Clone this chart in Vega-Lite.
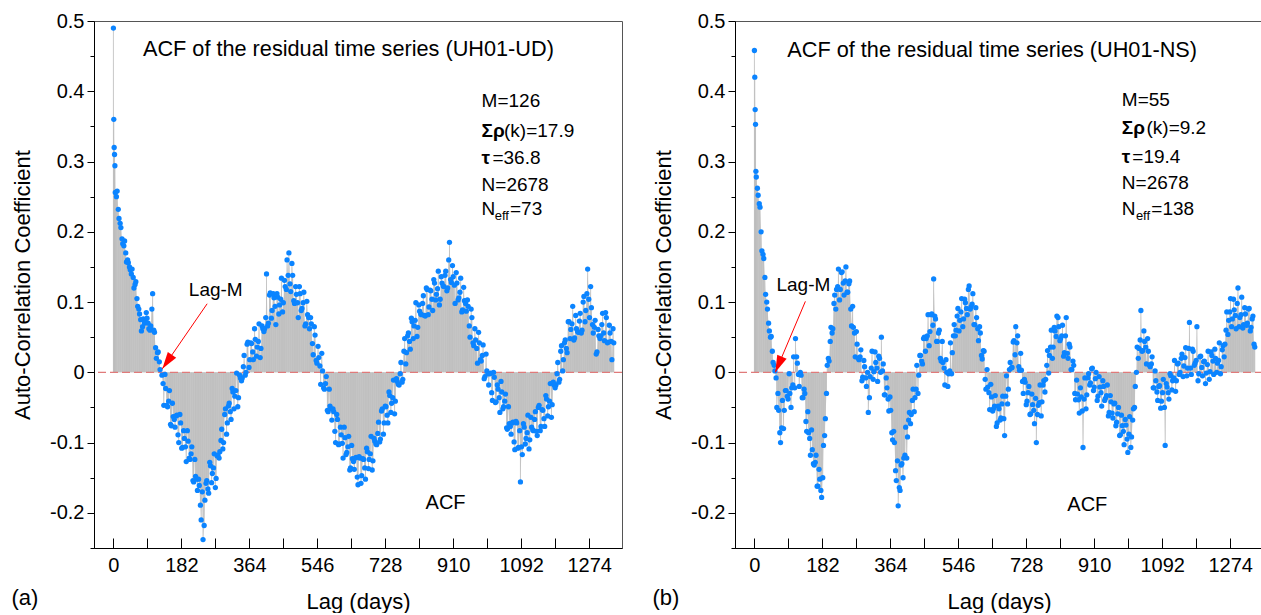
{
"$schema": "https://vega.github.io/schema/vega-lite/v6.json",
"padding": {"left": 11, "top": 10, "right": 0, "bottom": 0},
"config": {
 "font": "Liberation Sans",
 "view": {"stroke": "#555555", "strokeWidth": 1},
 "concat": {"spacing": 28},
 "axis": {"labelFontSize": 20, "titleFontSize": 22, "titleFontWeight": "normal", "labelColor": "black", "titleColor": "black", "domainColor": "black", "tickColor": "black", "grid": false},
 "title": {"fontSize": 22, "fontWeight": "normal", "color": "black"}
},
"datasets": {
"acfA": [{"lag":0,"v":0.49},{"lag":1,"v":0.36},{"lag":2,"v":0.32},{"lag":3,"v":0.31},{"lag":4,"v":0.294},{"lag":5,"v":0.256},{"lag":10,"v":0.258},{"lag":15,"v":0.219},{"lag":20,"v":0.206},{"lag":25,"v":0.183},{"lag":30,"v":0.187},{"lag":35,"v":0.157},{"lag":40,"v":0.156},{"lag":45,"v":0.146},{"lag":50,"v":0.147},{"lag":55,"v":0.12},{"lag":60,"v":0.129},{"lag":65,"v":0.094},{"lag":70,"v":0.083},{"lag":75,"v":0.059},{"lag":80,"v":0.076},{"lag":85,"v":0.073},{"lag":90,"v":0.077},{"lag":95,"v":0.062},{"lag":100,"v":0.066},{"lag":105,"v":0.112},{"lag":110,"v":0.057},{"lag":115,"v":0.02},{"lag":120,"v":0.029},{"lag":125,"v":0.004},{"lag":130,"v":-0.004},{"lag":135,"v":-0.047},{"lag":140,"v":-0.023},{"lag":145,"v":-0.049},{"lag":150,"v":-0.026},{"lag":155,"v":-0.076},{"lag":160,"v":-0.063},{"lag":165,"v":-0.078},{"lag":170,"v":-0.061},{"lag":175,"v":-0.1},{"lag":180,"v":-0.072},{"lag":185,"v":-0.107},{"lag":190,"v":-0.094},{"lag":195,"v":-0.127},{"lag":200,"v":-0.098},{"lag":205,"v":-0.124},{"lag":210,"v":-0.106},{"lag":215,"v":-0.156},{"lag":220,"v":-0.148},{"lag":225,"v":-0.168},{"lag":230,"v":-0.161},{"lag":235,"v":-0.21},{"lag":240,"v":-0.238},{"lag":245,"v":-0.182},{"lag":250,"v":-0.154},{"lag":255,"v":-0.172},{"lag":260,"v":-0.133},{"lag":265,"v":-0.144},{"lag":270,"v":-0.116},{"lag":275,"v":-0.151},{"lag":280,"v":-0.118},{"lag":285,"v":-0.113},{"lag":290,"v":-0.081},{"lag":295,"v":-0.1},{"lag":300,"v":-0.052},{"lag":305,"v":-0.072},{"lag":310,"v":-0.044},{"lag":315,"v":-0.067},{"lag":320,"v":-0.028},{"lag":325,"v":-0.034},{"lag":330,"v":-0.001},{"lag":335,"v":-0.036},{"lag":340,"v":-0.008},{"lag":345,"v":-0.008},{"lag":350,"v":0.024},{"lag":355,"v":0.0},{"lag":360,"v":0.043},{"lag":365,"v":0.018},{"lag":370,"v":0.041},{"lag":375,"v":0.018},{"lag":380,"v":0.047},{"lag":385,"v":0.036},{"lag":390,"v":0.069},{"lag":395,"v":0.034},{"lag":400,"v":0.062},{"lag":405,"v":0.062},{"lag":410,"v":0.14},{"lag":415,"v":0.07},{"lag":420,"v":0.113},{"lag":425,"v":0.088},{"lag":430,"v":0.106},{"lag":435,"v":0.068},{"lag":440,"v":0.107},{"lag":445,"v":0.096},{"lag":450,"v":0.134},{"lag":455,"v":0.099},{"lag":460,"v":0.122},{"lag":465,"v":0.16},{"lag":470,"v":0.17},{"lag":475,"v":0.115},{"lag":480,"v":0.138},{"lag":485,"v":0.098},{"lag":490,"v":0.111},{"lag":495,"v":0.078},{"lag":500,"v":0.112},{"lag":505,"v":0.091},{"lag":510,"v":0.114},{"lag":515,"v":0.069},{"lag":520,"v":0.082},{"lag":525,"v":0.062},{"lag":530,"v":0.069},{"lag":535,"v":0.025},{"lag":540,"v":0.053},{"lag":545,"v":0.013},{"lag":550,"v":0.021},{"lag":555,"v":-0.017},{"lag":560,"v":0.002},{"lag":565,"v":-0.024},{"lag":570,"v":-0.006},{"lag":575,"v":-0.056},{"lag":580,"v":-0.048},{"lag":585,"v":-0.068},{"lag":590,"v":-0.056},{"lag":595,"v":-0.1},{"lag":600,"v":-0.067},{"lag":605,"v":-0.102},{"lag":610,"v":-0.089},{"lag":615,"v":-0.122},{"lag":620,"v":-0.093},{"lag":625,"v":-0.114},{"lag":630,"v":-0.091},{"lag":635,"v":-0.136},{"lag":640,"v":-0.123},{"lag":645,"v":-0.138},{"lag":650,"v":-0.121},{"lag":655,"v":-0.16},{"lag":660,"v":-0.122},{"lag":665,"v":-0.147},{"lag":670,"v":-0.124},{"lag":675,"v":-0.152},{"lag":680,"v":-0.113},{"lag":685,"v":-0.124},{"lag":690,"v":-0.091},{"lag":695,"v":-0.126},{"lag":700,"v":-0.098},{"lag":705,"v":-0.103},{"lag":710,"v":-0.071},{"lag":715,"v":-0.095},{"lag":720,"v":-0.052},{"lag":725,"v":-0.072},{"lag":730,"v":-0.049},{"lag":735,"v":-0.072},{"lag":740,"v":-0.033},{"lag":745,"v":-0.044},{"lag":750,"v":-0.011},{"lag":755,"v":-0.041},{"lag":760,"v":-0.013},{"lag":765,"v":-0.018},{"lag":770,"v":0.014},{"lag":775,"v":-0.01},{"lag":780,"v":0.048},{"lag":785,"v":0.028},{"lag":790,"v":0.056},{"lag":795,"v":0.033},{"lag":800,"v":0.072},{"lag":805,"v":0.066},{"lag":810,"v":0.099},{"lag":815,"v":0.064},{"lag":820,"v":0.087},{"lag":825,"v":0.082},{"lag":830,"v":0.109},{"lag":835,"v":0.08},{"lag":840,"v":0.118},{"lag":845,"v":0.093},{"lag":850,"v":0.116},{"lag":855,"v":0.088},{"lag":860,"v":0.127},{"lag":865,"v":0.111},{"lag":870,"v":0.144},{"lag":875,"v":0.104},{"lag":880,"v":0.127},{"lag":885,"v":0.122},{"lag":890,"v":0.144},{"lag":895,"v":0.12},{"lag":900,"v":0.185},{"lag":905,"v":0.128},{"lag":910,"v":0.136},{"lag":915,"v":0.098},{"lag":920,"v":0.127},{"lag":925,"v":0.106},{"lag":930,"v":0.134},{"lag":935,"v":0.089},{"lag":940,"v":0.102},{"lag":945,"v":0.087},{"lag":950,"v":0.094},{"lag":955,"v":0.05},{"lag":960,"v":0.078},{"lag":965,"v":0.038},{"lag":970,"v":0.046},{"lag":975,"v":0.013},{"lag":980,"v":0.042},{"lag":985,"v":0.016},{"lag":990,"v":0.039},{"lag":995,"v":-0.006},{"lag":1000,"v":0.002},{"lag":1005,"v":-0.018},{"lag":1010,"v":-0.001},{"lag":1015,"v":-0.04},{"lag":1020,"v":-0.007},{"lag":1025,"v":-0.042},{"lag":1030,"v":-0.024},{"lag":1035,"v":-0.057},{"lag":1040,"v":-0.028},{"lag":1045,"v":-0.049},{"lag":1050,"v":-0.031},{"lag":1055,"v":-0.081},{"lag":1060,"v":-0.073},{"lag":1065,"v":-0.088},{"lag":1070,"v":-0.071},{"lag":1075,"v":-0.11},{"lag":1080,"v":-0.072},{"lag":1085,"v":-0.107},{"lag":1090,"v":-0.156},{"lag":1095,"v":-0.117},{"lag":1100,"v":-0.078},{"lag":1105,"v":-0.094},{"lag":1110,"v":-0.061},{"lag":1115,"v":-0.096},{"lag":1120,"v":-0.078},{"lag":1125,"v":-0.083},{"lag":1130,"v":-0.056},{"lag":1135,"v":-0.09},{"lag":1140,"v":-0.047},{"lag":1145,"v":-0.077},{"lag":1150,"v":-0.054},{"lag":1155,"v":-0.077},{"lag":1160,"v":-0.038},{"lag":1165,"v":-0.049},{"lag":1170,"v":-0.016},{"lag":1175,"v":-0.046},{"lag":1180,"v":-0.018},{"lag":1185,"v":-0.018},{"lag":1190,"v":0.014},{"lag":1195,"v":-0.01},{"lag":1200,"v":0.038},{"lag":1205,"v":0.018},{"lag":1210,"v":0.046},{"lag":1215,"v":0.028},{"lag":1220,"v":0.072},{"lag":1225,"v":0.061},{"lag":1230,"v":0.094},{"lag":1235,"v":0.049},{"lag":1240,"v":0.062},{"lag":1245,"v":0.057},{"lag":1250,"v":0.084},{"lag":1255,"v":0.06},{"lag":1260,"v":0.108},{"lag":1265,"v":0.088},{"lag":1270,"v":0.147},{"lag":1275,"v":0.078},{"lag":1280,"v":0.092},{"lag":1285,"v":0.056},{"lag":1290,"v":0.074},{"lag":1295,"v":0.029},{"lag":1300,"v":0.052},{"lag":1305,"v":0.052},{"lag":1310,"v":0.084},{"lag":1315,"v":0.045},{"lag":1320,"v":0.078},{"lag":1325,"v":0.043},{"lag":1330,"v":0.056},{"lag":1335,"v":0.018},{"lag":1340,"v":0.042},
{"lag":8,"v":0.25},{"lag":13,"v":0.232},{"lag":18,"v":0.212},{"lag":23,"v":0.19},{"lag":28,"v":0.18},{"lag":33,"v":0.17},{"lag":38,"v":0.16},{"lag":43,"v":0.15},{"lag":48,"v":0.14},{"lag":53,"v":0.135},{"lag":58,"v":0.125},{"lag":63,"v":0.105},{"lag":68,"v":0.09},{"lag":73,"v":0.075},{"lag":78,"v":0.065},{"lag":83,"v":0.07},{"lag":88,"v":0.085},{"lag":93,"v":0.07},{"lag":98,"v":0.06},{"lag":103,"v":0.09},{"lag":108,"v":0.06},{"lag":113,"v":0.035},{"lag":118,"v":0.028},{"lag":123,"v":0.015},{"lag":133,"v":-0.016},{"lag":138,"v":-0.003},{"lag":143,"v":-0.047},{"lag":148,"v":-0.041},{"lag":153,"v":-0.074},{"lag":158,"v":-0.044},{"lag":163,"v":-0.067},{"lag":168,"v":-0.062},{"lag":173,"v":-0.089},{"lag":178,"v":-0.06},{"lag":183,"v":-0.108},{"lag":188,"v":-0.083},{"lag":193,"v":-0.106},{"lag":198,"v":-0.083},{"lag":203,"v":-0.122},{"lag":208,"v":-0.116},{"lag":213,"v":-0.154},{"lag":218,"v":-0.124},{"lag":223,"v":-0.152},{"lag":228,"v":-0.152},{"lag":233,"v":-0.189},{"lag":238,"v":-0.17},{"lag":243,"v":-0.218},{"lag":248,"v":-0.158},{"lag":253,"v":-0.166},{"lag":258,"v":-0.128},{"lag":263,"v":-0.157},{"lag":268,"v":-0.136},{"lag":273,"v":-0.164},{"lag":278,"v":-0.119},{"lag":283,"v":-0.122},{"lag":288,"v":-0.097},{"lag":293,"v":-0.109},{"lag":298,"v":-0.06},{"lag":303,"v":-0.088},{"lag":308,"v":-0.048},{"lag":313,"v":-0.056},{"lag":318,"v":-0.023},{"lag":323,"v":-0.052},{"lag":328,"v":-0.026},{"lag":333,"v":-0.049},{"lag":338,"v":-0.004},{"lag":343,"v":-0.012},{"lag":348,"v":0.008},{"lag":353,"v":-0.004},{"lag":358,"v":0.04},{"lag":363,"v":0.007},{"lag":368,"v":0.042},{"lag":373,"v":0.029},{"lag":378,"v":0.062},{"lag":383,"v":0.023},{"lag":388,"v":0.044},{"lag":393,"v":0.021},{"lag":398,"v":0.066},{"lag":403,"v":0.058},{"lag":408,"v":0.078},{"lag":413,"v":0.066},{"lag":418,"v":0.11},{"lag":423,"v":0.077},{"lag":428,"v":0.112},{"lag":433,"v":0.094},{"lag":438,"v":0.112},{"lag":443,"v":0.083},{"lag":448,"v":0.104},{"lag":453,"v":0.086},{"lag":458,"v":0.131},{"lag":463,"v":0.118},{"lag":468,"v":0.138},{"lag":473,"v":0.126},{"lag":478,"v":0.155},{"lag":483,"v":0.102},{"lag":488,"v":0.122},{"lag":493,"v":0.099},{"lag":498,"v":0.122},{"lag":503,"v":0.088},{"lag":508,"v":0.099},{"lag":513,"v":0.066},{"lag":518,"v":0.101},{"lag":523,"v":0.078},{"lag":528,"v":0.078},{"lag":533,"v":0.041},{"lag":538,"v":0.065},{"lag":543,"v":0.017},{"lag":548,"v":0.037},{"lag":553,"v":0.009},{"lag":558,"v":0.027},{"lag":563,"v":-0.022},{"lag":568,"v":-0.016},{"lag":573,"v":-0.054},{"lag":578,"v":-0.024},{"lag":583,"v":-0.052},{"lag":588,"v":-0.052},{"lag":593,"v":-0.084},{"lag":598,"v":-0.06},{"lag":603,"v":-0.103},{"lag":608,"v":-0.078},{"lag":613,"v":-0.101},{"lag":618,"v":-0.078},{"lag":623,"v":-0.117},{"lag":628,"v":-0.106},{"lag":633,"v":-0.139},{"lag":638,"v":-0.104},{"lag":643,"v":-0.127},{"lag":648,"v":-0.122},{"lag":653,"v":-0.149},{"lag":658,"v":-0.12},{"lag":663,"v":-0.158},{"lag":668,"v":-0.123},{"lag":673,"v":-0.136},{"lag":678,"v":-0.108},{"lag":683,"v":-0.137},{"lag":688,"v":-0.116},{"lag":693,"v":-0.139},{"lag":698,"v":-0.094},{"lag":703,"v":-0.102},{"lag":708,"v":-0.087},{"lag":713,"v":-0.099},{"lag":718,"v":-0.055},{"lag":723,"v":-0.088},{"lag":728,"v":-0.048},{"lag":733,"v":-0.061},{"lag":738,"v":-0.028},{"lag":743,"v":-0.057},{"lag":748,"v":-0.036},{"lag":753,"v":-0.059},{"lag":758,"v":-0.009},{"lag":763,"v":-0.017},{"lag":768,"v":-0.002},{"lag":773,"v":-0.014},{"lag":778,"v":0.03},{"lag":783,"v":0.012},{"lag":788,"v":0.052},{"lag":793,"v":0.044},{"lag":798,"v":0.077},{"lag":803,"v":0.048},{"lag":808,"v":0.074},{"lag":813,"v":0.051},{"lag":818,"v":0.096},{"lag":823,"v":0.083},{"lag":828,"v":0.098},{"lag":833,"v":0.081},{"lag":838,"v":0.12},{"lag":843,"v":0.082},{"lag":848,"v":0.117},{"lag":853,"v":0.104},{"lag":858,"v":0.132},{"lag":863,"v":0.103},{"lag":868,"v":0.119},{"lag":873,"v":0.096},{"lag":878,"v":0.136},{"lag":883,"v":0.123},{"lag":888,"v":0.138},{"lag":893,"v":0.116},{"lag":898,"v":0.16},{"lag":903,"v":0.132},{"lag":908,"v":0.152},{"lag":913,"v":0.124},{"lag":918,"v":0.142},{"lag":923,"v":0.103},{"lag":928,"v":0.114},{"lag":933,"v":0.086},{"lag":938,"v":0.121},{"lag":943,"v":0.098},{"lag":948,"v":0.103},{"lag":953,"v":0.066},{"lag":958,"v":0.09},{"lag":963,"v":0.042},{"lag":968,"v":0.062},{"lag":973,"v":0.034},{"lag":978,"v":0.057},{"lag":983,"v":0.018},{"lag":988,"v":0.024},{"lag":993,"v":-0.009},{"lag":998,"v":0.026},{"lag":1003,"v":-0.002},{"lag":1008,"v":-0.002},{"lag":1013,"v":-0.029},{"lag":1018,"v":0.0},{"lag":1023,"v":-0.043},{"lag":1028,"v":-0.018},{"lag":1033,"v":-0.036},{"lag":1038,"v":-0.013},{"lag":1043,"v":-0.052},{"lag":1048,"v":-0.041},{"lag":1053,"v":-0.079},{"lag":1058,"v":-0.049},{"lag":1063,"v":-0.077},{"lag":1068,"v":-0.072},{"lag":1073,"v":-0.099},{"lag":1078,"v":-0.07},{"lag":1083,"v":-0.108},{"lag":1088,"v":-0.083},{"lag":1093,"v":-0.106},{"lag":1098,"v":-0.073},{"lag":1103,"v":-0.102},{"lag":1108,"v":-0.086},{"lag":1113,"v":-0.109},{"lag":1118,"v":-0.064},{"lag":1123,"v":-0.082},{"lag":1128,"v":-0.067},{"lag":1133,"v":-0.084},{"lag":1138,"v":-0.05},{"lag":1143,"v":-0.083},{"lag":1148,"v":-0.053},{"lag":1153,"v":-0.066},{"lag":1158,"v":-0.033},{"lag":1163,"v":-0.062},{"lag":1168,"v":-0.041},{"lag":1173,"v":-0.064},{"lag":1178,"v":-0.014},{"lag":1183,"v":-0.022},{"lag":1188,"v":-0.002},{"lag":1193,"v":-0.014},{"lag":1198,"v":0.03},{"lag":1203,"v":0.002},{"lag":1208,"v":0.042},{"lag":1213,"v":0.034},{"lag":1218,"v":0.072},{"lag":1223,"v":0.048},{"lag":1228,"v":0.069},{"lag":1233,"v":0.046},{"lag":1238,"v":0.081},{"lag":1243,"v":0.058},{"lag":1248,"v":0.073},{"lag":1253,"v":0.056},{"lag":1258,"v":0.1},{"lag":1263,"v":0.072},{"lag":1268,"v":0.112},{"lag":1273,"v":0.104},{"lag":1278,"v":0.122},{"lag":1283,"v":0.068},{"lag":1288,"v":0.064},{"lag":1293,"v":0.026},{"lag":1298,"v":0.061},{"lag":1303,"v":0.048},{"lag":1308,"v":0.068},{"lag":1313,"v":0.056},{"lag":1318,"v":0.085},{"lag":1323,"v":0.042},{"lag":1328,"v":0.067},{"lag":1333,"v":0.044},{"lag":1338,"v":0.062}],
"acfB": [{"lag":0,"v":0.458},{"lag":1,"v":0.42},{"lag":2,"v":0.374},{"lag":3,"v":0.353},{"lag":4,"v":0.286},{"lag":5,"v":0.278},{"lag":10,"v":0.252},{"lag":15,"v":0.235},{"lag":20,"v":0.173},{"lag":25,"v":0.162},{"lag":30,"v":0.111},{"lag":35,"v":0.09},{"lag":40,"v":0.059},{"lag":45,"v":0.051},{"lag":50,"v":0.014},{"lag":55,"v":0.002},{"lag":60,"v":-0.05},{"lag":65,"v":-0.054},{"lag":70,"v":-0.1},{"lag":75,"v":-0.04},{"lag":80,"v":-0.054},{"lag":85,"v":-0.026},{"lag":90,"v":-0.038},{"lag":95,"v":-0.03},{"lag":100,"v":-0.022},{"lag":105,"v":0.022},{"lag":110,"v":0.048},{"lag":115,"v":0.013},{"lag":120,"v":-0.02},{"lag":125,"v":-0.004},{"lag":130,"v":-0.036},{"lag":135,"v":-0.03},{"lag":140,"v":-0.084},{"lag":145,"v":-0.086},{"lag":150,"v":-0.118},{"lag":155,"v":-0.11},{"lag":160,"v":-0.132},{"lag":165,"v":-0.118},{"lag":170,"v":-0.162},{"lag":175,"v":-0.152},{"lag":180,"v":-0.178},{"lag":185,"v":-0.104},{"lag":190,"v":-0.066},{"lag":195,"v":0.01},{"lag":200,"v":0.016},{"lag":205,"v":0.064},{"lag":210,"v":0.062},{"lag":215,"v":0.11},{"lag":220,"v":0.118},{"lag":225,"v":0.147},{"lag":230,"v":0.118},{"lag":235,"v":0.143},{"lag":240,"v":0.11},{"lag":245,"v":0.15},{"lag":250,"v":0.114},{"lag":255,"v":0.13},{"lag":260,"v":0.066},{"lag":265,"v":0.064},{"lag":270,"v":0.022},{"lag":275,"v":0.04},{"lag":280,"v":0.018},{"lag":285,"v":0.032},{"lag":290,"v":-0.007},{"lag":295,"v":0.008},{"lag":300,"v":-0.02},{"lag":305,"v":-0.057},{"lag":310,"v":-0.006},{"lag":315,"v":0.03},{"lag":320,"v":0.001},{"lag":325,"v":0.014},{"lag":330,"v":-0.013},{"lag":335,"v":0.02},{"lag":340,"v":0.05},{"lag":345,"v":0.012},{"lag":350,"v":-0.032},{"lag":355,"v":-0.022},{"lag":360,"v":-0.055},{"lag":365,"v":-0.054},{"lag":370,"v":-0.096},{"lag":375,"v":-0.1},{"lag":380,"v":-0.154},{"lag":385,"v":-0.19},{"lag":390,"v":-0.168},{"lag":395,"v":-0.13},{"lag":400,"v":-0.122},{"lag":405,"v":-0.078},{"lag":410,"v":-0.092},{"lag":415,"v":-0.057},{"lag":420,"v":-0.06},{"lag":425,"v":-0.024},{"lag":430,"v":-0.036},{"lag":435,"v":0.01},{"lag":440,"v":-0.004},{"lag":445,"v":0.024},{"lag":450,"v":0.012},{"lag":455,"v":0.05},{"lag":460,"v":0.048},{"lag":465,"v":0.082},{"lag":470,"v":0.058},{"lag":475,"v":0.083},{"lag":480,"v":0.133},{"lag":485,"v":0.076},{"lag":490,"v":0.044},{"lag":495,"v":0.06},{"lag":500,"v":0.016},{"lag":505,"v":0.014},{"lag":510,"v":-0.018},{"lag":515,"v":0.0},{"lag":520,"v":-0.002},{"lag":525,"v":0.042},{"lag":530,"v":0.028},{"lag":535,"v":0.068},{"lag":540,"v":0.06},{"lag":545,"v":0.091},{"lag":550,"v":0.074},{"lag":555,"v":0.105},{"lag":560,"v":0.076},{"lag":565,"v":0.099},{"lag":570,"v":0.082},{"lag":575,"v":0.123},{"lag":580,"v":0.093},{"lag":585,"v":0.112},{"lag":590,"v":0.068},{"lag":595,"v":0.078},{"lag":600,"v":0.045},{"lag":605,"v":0.056},{"lag":610,"v":0.019},{"lag":615,"v":0.03},{"lag":620,"v":-0.024},{"lag":625,"v":-0.021},{"lag":630,"v":-0.053},{"lag":635,"v":-0.035},{"lag":640,"v":-0.052},{"lag":645,"v":-0.033},{"lag":650,"v":-0.072},{"lag":655,"v":-0.052},{"lag":660,"v":-0.065},{"lag":665,"v":-0.034},{"lag":670,"v":-0.09},{"lag":675,"v":-0.005},{"lag":680,"v":-0.024},{"lag":685,"v":0.014},{"lag":690,"v":0.007},{"lag":695,"v":0.045},{"lag":700,"v":0.065},{"lag":705,"v":0.052},{"lag":710,"v":0.003},{"lag":715,"v":0.003},{"lag":720,"v":-0.03},{"lag":725,"v":-0.014},{"lag":730,"v":-0.041},{"lag":735,"v":-0.02},{"lag":740,"v":-0.059},{"lag":745,"v":-0.046},{"lag":750,"v":-0.073},{"lag":755,"v":-0.1},{"lag":760,"v":-0.047},{"lag":765,"v":-0.018},{"lag":770,"v":-0.042},{"lag":775,"v":-0.012},{"lag":780,"v":-0.01},{"lag":785,"v":0.031},{"lag":790,"v":0.024},{"lag":795,"v":0.06},{"lag":800,"v":0.036},{"lag":805,"v":0.059},{"lag":810,"v":0.08},{"lag":815,"v":0.065},{"lag":820,"v":0.048},{"lag":825,"v":0.067},{"lag":830,"v":0.028},{"lag":835,"v":0.078},{"lag":840,"v":0.02},{"lag":845,"v":0.036},{"lag":850,"v":0.004},{"lag":855,"v":0.01},{"lag":860,"v":-0.039},{"lag":865,"v":-0.031},{"lag":870,"v":-0.058},{"lag":875,"v":-0.035},{"lag":880,"v":-0.107},{"lag":885,"v":-0.008},{"lag":890,"v":-0.032},{"lag":895,"v":-0.002},{"lag":900,"v":-0.015},{"lag":905,"v":0.006},{"lag":910,"v":-0.021},{"lag":915,"v":0.0},{"lag":920,"v":-0.034},{"lag":925,"v":-0.021},{"lag":930,"v":-0.048},{"lag":935,"v":-0.02},{"lag":940,"v":-0.037},{"lag":945,"v":-0.018},{"lag":950,"v":-0.057},{"lag":955,"v":-0.042},{"lag":960,"v":-0.065},{"lag":965,"v":-0.044},{"lag":970,"v":-0.071},{"lag":975,"v":-0.05},{"lag":980,"v":-0.089},{"lag":985,"v":-0.076},{"lag":990,"v":-0.103},{"lag":995,"v":-0.075},{"lag":1000,"v":-0.114},{"lag":1005,"v":-0.063},{"lag":1010,"v":-0.092},{"lag":1015,"v":-0.052},{"lag":1020,"v":-0.02},{"lag":1025,"v":0.036},{"lag":1030,"v":0.034},{"lag":1035,"v":0.088},{"lag":1040,"v":0.031},{"lag":1045,"v":0.044},{"lag":1050,"v":0.012},{"lag":1055,"v":0.03},{"lag":1060,"v":0.008},{"lag":1065,"v":0.022},{"lag":1070,"v":-0.022},{"lag":1075,"v":-0.012},{"lag":1080,"v":-0.04},{"lag":1085,"v":-0.019},{"lag":1090,"v":-0.041},{"lag":1095,"v":-0.01},{"lag":1100,"v":-0.104},{"lag":1105,"v":-0.021},{"lag":1110,"v":-0.038},{"lag":1115,"v":-0.005},{"lag":1120,"v":-0.012},{"lag":1125,"v":0.017},{"lag":1130,"v":-0.012},{"lag":1135,"v":0.013},{"lag":1140,"v":0.0},{"lag":1145,"v":0.026},{"lag":1150,"v":0.009},{"lag":1155,"v":0.035},{"lag":1160,"v":0.006},{"lag":1165,"v":0.071},{"lag":1170,"v":-0.003},{"lag":1175,"v":0.03},{"lag":1180,"v":0.013},{"lag":1185,"v":0.065},{"lag":1190,"v":-0.002},{"lag":1195,"v":0.023},{"lag":1200,"v":-0.005},{"lag":1205,"v":0.016},{"lag":1210,"v":-0.001},{"lag":1215,"v":0.03},{"lag":1220,"v":0.001},{"lag":1225,"v":0.024},{"lag":1230,"v":-0.003},{"lag":1235,"v":0.02},{"lag":1240,"v":0.013},{"lag":1245,"v":0.042},{"lag":1250,"v":0.008},{"lag":1255,"v":0.038},{"lag":1260,"v":0.04},{"lag":1265,"v":0.086},{"lag":1270,"v":0.074},{"lag":1275,"v":0.105},{"lag":1280,"v":0.076},{"lag":1285,"v":0.089},{"lag":1290,"v":0.062},{"lag":1295,"v":0.12},{"lag":1300,"v":0.078},{"lag":1305,"v":0.107},{"lag":1310,"v":0.068},{"lag":1315,"v":0.083},{"lag":1320,"v":0.07},{"lag":1325,"v":0.091},{"lag":1330,"v":0.064},{"lag":1335,"v":0.08},{"lag":1340,"v":0.036},
{"lag":8,"v":0.262},{"lag":13,"v":0.24},{"lag":18,"v":0.2},{"lag":23,"v":0.168},{"lag":28,"v":0.135},{"lag":33,"v":0.1},{"lag":38,"v":0.07},{"lag":43,"v":0.05},{"lag":48,"v":0.03},{"lag":53,"v":0.01},{"lag":58,"v":-0.008},{"lag":63,"v":-0.03},{"lag":68,"v":-0.086},{"lag":73,"v":-0.079},{"lag":78,"v":-0.08},{"lag":83,"v":-0.026},{"lag":88,"v":-0.034},{"lag":93,"v":-0.002},{"lag":98,"v":-0.05},{"lag":103,"v":-0.018},{"lag":108,"v":-0.022},{"lag":113,"v":0.022},{"lag":118,"v":-0.003},{"lag":123,"v":0.0},{"lag":128,"v":-0.036},{"lag":133,"v":-0.024},{"lag":138,"v":-0.07},{"lag":143,"v":-0.056},{"lag":148,"v":-0.094},{"lag":153,"v":-0.082},{"lag":158,"v":-0.13},{"lag":163,"v":-0.128},{"lag":168,"v":-0.162},{"lag":173,"v":-0.138},{"lag":178,"v":-0.168},{"lag":183,"v":-0.15},{"lag":188,"v":-0.09},{"lag":193,"v":-0.03},{"lag":198,"v":0.02},{"lag":203,"v":0.044},{"lag":208,"v":0.056},{"lag":213,"v":0.098},{"lag":218,"v":0.09},{"lag":223,"v":0.122},{"lag":228,"v":0.103},{"lag":233,"v":0.142},{"lag":238,"v":0.127},{"lag":243,"v":0.13},{"lag":248,"v":0.114},{"lag":253,"v":0.126},{"lag":258,"v":0.09},{"lag":263,"v":0.094},{"lag":268,"v":0.056},{"lag":273,"v":0.058},{"lag":278,"v":0.02},{"lag":283,"v":0.022},{"lag":288,"v":-0.012},{"lag":293,"v":0.017},{"lag":298,"v":-0.008},{"lag":303,"v":0.0},{"lag":308,"v":-0.036},{"lag":313,"v":0.006},{"lag":318,"v":-0.01},{"lag":323,"v":0.029},{"lag":328,"v":0.006},{"lag":333,"v":0.023},{"lag":338,"v":0.0},{"lag":343,"v":0.002},{"lag":348,"v":-0.032},{"lag":353,"v":-0.008},{"lag":358,"v":-0.038},{"lag":363,"v":-0.035},{"lag":368,"v":-0.086},{"lag":373,"v":-0.084},{"lag":378,"v":-0.14},{"lag":383,"v":-0.126},{"lag":388,"v":-0.164},{"lag":393,"v":-0.132},{"lag":398,"v":-0.15},{"lag":403,"v":-0.118},{"lag":408,"v":-0.122},{"lag":413,"v":-0.068},{"lag":418,"v":-0.073},{"lag":423,"v":-0.04},{"lag":428,"v":-0.056},{"lag":433,"v":-0.024},{"lag":438,"v":-0.03},{"lag":443,"v":0.024},{"lag":448,"v":0.016},{"lag":453,"v":0.048},{"lag":458,"v":0.03},{"lag":463,"v":0.052},{"lag":468,"v":0.038},{"lag":473,"v":0.082},{"lag":478,"v":0.067},{"lag":483,"v":0.08},{"lag":488,"v":0.044},{"lag":493,"v":0.056},{"lag":498,"v":0.02},{"lag":503,"v":0.044},{"lag":508,"v":0.006},{"lag":513,"v":0.018},{"lag":518,"v":-0.02},{"lag":523,"v":0.002},{"lag":528,"v":-0.002},{"lag":533,"v":0.052},{"lag":538,"v":0.052},{"lag":543,"v":0.08},{"lag":548,"v":0.059},{"lag":553,"v":0.086},{"lag":558,"v":0.065},{"lag":563,"v":0.104},{"lag":568,"v":0.091},{"lag":573,"v":0.118},{"lag":578,"v":0.09},{"lag":583,"v":0.097},{"lag":588,"v":0.068},{"lag":593,"v":0.092},{"lag":598,"v":0.062},{"lag":603,"v":0.065},{"lag":608,"v":0.024},{"lag":613,"v":0.031},{"lag":618,"v":-0.01},{"lag":623,"v":0.004},{"lag":628,"v":-0.029},{"lag":633,"v":-0.017},{"lag":638,"v":-0.055},{"lag":643,"v":-0.048},{"lag":648,"v":-0.077},{"lag":653,"v":-0.048},{"lag":658,"v":-0.068},{"lag":663,"v":-0.045},{"lag":668,"v":-0.066},{"lag":673,"v":-0.034},{"lag":678,"v":-0.045},{"lag":683,"v":0.004},{"lag":688,"v":0.006},{"lag":693,"v":0.043},{"lag":698,"v":0.025},{"lag":703,"v":0.042},{"lag":708,"v":0.008},{"lag":713,"v":0.027},{"lag":718,"v":-0.013},{"lag":723,"v":-0.01},{"lag":728,"v":-0.046},{"lag":733,"v":-0.029},{"lag":738,"v":-0.06},{"lag":743,"v":-0.031},{"lag":748,"v":-0.054},{"lag":753,"v":-0.037},{"lag":758,"v":-0.06},{"lag":763,"v":-0.043},{"lag":768,"v":-0.062},{"lag":773,"v":-0.018},{"lag":778,"v":-0.028},{"lag":783,"v":0.01},{"lag":788,"v":-0.001},{"lag":793,"v":0.036},{"lag":798,"v":0.02},{"lag":803,"v":0.064},{"lag":808,"v":0.051},{"lag":813,"v":0.078},{"lag":818,"v":0.045},{"lag":823,"v":0.052},{"lag":828,"v":0.023},{"lag":833,"v":0.052},{"lag":838,"v":0.027},{"lag":843,"v":0.04},{"lag":848,"v":0.004},{"lag":853,"v":0.016},{"lag":858,"v":-0.03},{"lag":863,"v":-0.011},{"lag":868,"v":-0.039},{"lag":873,"v":-0.022},{"lag":878,"v":-0.055},{"lag":883,"v":-0.038},{"lag":888,"v":-0.052},{"lag":893,"v":-0.008},{"lag":898,"v":-0.018},{"lag":903,"v":0.005},{"lag":908,"v":-0.026},{"lag":913,"v":-0.009},{"lag":918,"v":-0.04},{"lag":923,"v":-0.006},{"lag":928,"v":-0.029},{"lag":933,"v":-0.012},{"lag":938,"v":-0.04},{"lag":943,"v":-0.033},{"lag":948,"v":-0.062},{"lag":953,"v":-0.033},{"lag":958,"v":-0.058},{"lag":963,"v":-0.045},{"lag":968,"v":-0.076},{"lag":973,"v":-0.059},{"lag":978,"v":-0.09},{"lag":983,"v":-0.061},{"lag":988,"v":-0.084},{"lag":993,"v":-0.067},{"lag":998,"v":-0.095},{"lag":1003,"v":-0.088},{"lag":1008,"v":-0.107},{"lag":1013,"v":-0.068},{"lag":1018,"v":-0.05},{"lag":1023,"v":0.0},{"lag":1028,"v":0.02},{"lag":1033,"v":0.046},{"lag":1038,"v":0.03},{"lag":1043,"v":0.059},{"lag":1048,"v":0.036},{"lag":1053,"v":0.048},{"lag":1058,"v":0.01},{"lag":1063,"v":0.012},{"lag":1068,"v":-0.022},{"lag":1073,"v":0.002},{"lag":1078,"v":-0.028},{"lag":1083,"v":-0.02},{"lag":1088,"v":-0.051},{"lag":1093,"v":-0.029},{"lag":1098,"v":-0.05},{"lag":1103,"v":-0.016},{"lag":1108,"v":-0.029},{"lag":1113,"v":-0.002},{"lag":1118,"v":-0.025},{"lag":1123,"v":-0.008},{"lag":1128,"v":-0.027},{"lag":1133,"v":0.012},{"lag":1138,"v":-0.003},{"lag":1143,"v":0.02},{"lag":1148,"v":-0.006},{"lag":1153,"v":0.021},{"lag":1158,"v":-0.005},{"lag":1163,"v":0.034},{"lag":1168,"v":0.006},{"lag":1173,"v":0.033},{"lag":1178,"v":0.01},{"lag":1183,"v":0.017},{"lag":1188,"v":-0.012},{"lag":1193,"v":0.022},{"lag":1198,"v":0.007},{"lag":1203,"v":0.015},{"lag":1208,"v":-0.016},{"lag":1213,"v":0.011},{"lag":1218,"v":-0.01},{"lag":1223,"v":0.029},{"lag":1228,"v":0.016},{"lag":1233,"v":0.033},{"lag":1238,"v":0.0},{"lag":1243,"v":0.017},{"lag":1248,"v":-0.002},{"lag":1253,"v":0.032},{"lag":1258,"v":0.022},{"lag":1263,"v":0.06},{"lag":1268,"v":0.054},{"lag":1273,"v":0.086},{"lag":1278,"v":0.065},{"lag":1283,"v":0.104},{"lag":1288,"v":0.081},{"lag":1293,"v":0.098},{"lag":1298,"v":0.065},{"lag":1303,"v":0.082},{"lag":1308,"v":0.063},{"lag":1313,"v":0.092},{"lag":1318,"v":0.067},{"lag":1323,"v":0.09},{"lag":1328,"v":0.059},{"lag":1333,"v":0.076},{"lag":1338,"v":0.04}]
},
"hconcat": [
{
 "width": 528, "height": 527,
 "title": {"text": "(a)", "orient": "bottom", "anchor": "start", "frame": "bounds", "offset": -24},
 "resolve": {"axis": {"x": "independent", "y": "independent"}},
 "layer": [
  {"data": {"name": "acfA"}, "mark": {"type": "area", "color": "#d0d0d0", "interpolate": "linear"},
   "encoding": {
    "x": {"field": "lag", "type": "quantitative", "scale": {"domain": [-52, 1362], "nice": false, "zero": false},
     "axis": {"title": "Lag (days)", "values": [0,91,182,273,364,455,546,637,728,819,910,1001,1092,1183,1274], "format": "d", "labelExpr": "datum.value % 182 == 0 ? datum.label : ''", "tickSize": -10, "labelPadding": 17, "titlePadding": 16}},
    "y": {"field": "v", "type": "quantitative", "scale": {"domain": [-0.25, 0.5], "nice": false, "zero": false},
     "axis": {"title": "Auto-Correlation Coefficient", "orient": "left", "values": [-0.2,-0.1,0,0.1,0.2,0.3,0.4,0.5], "labelExpr": "toString(round(datum.value*10)/10)", "tickSize": 7, "labelPadding": 3, "titlePadding": 15}},
    "y2": {"datum": 0}}},
  {"data": {"name": "acfA"}, "mark": {"type": "rule", "color": "#bcbcbc", "strokeWidth": 0.8},
   "encoding": {"x": {"field": "lag", "type": "quantitative", "axis": null}, "y": {"field": "v", "type": "quantitative", "axis": null}, "y2": {"datum": 0}}},
  {"data": {"values": [{}]}, "mark": {"type": "rule", "color": "#e07a7a", "strokeDash": [8, 4], "strokeWidth": 1.3},
   "encoding": {"y": {"datum": 0, "type": "quantitative", "axis": {"orient": "left", "values": [-0.25,-0.15,-0.05,0.05,0.15,0.25,0.35,0.45], "labels": false, "domain": false, "tickSize": 4, "title": null}}}},
  {"data": {"name": "acfA"}, "mark": {"type": "circle", "color": "#0b84ff", "size": 28, "opacity": 1},
   "encoding": {"x": {"field": "lag", "type": "quantitative", "axis": null}, "y": {"field": "v", "type": "quantitative", "axis": null}}},
  {"data": {"values": [{"lag": 251, "v": 0.0976, "lag2": 131, "v2": 0.005}]}, "mark": {"type": "rule", "color": "#ff0000", "strokeWidth": 1},
   "encoding": {"x": {"field": "lag", "type": "quantitative", "axis": null}, "y": {"field": "v", "type": "quantitative", "axis": null}, "x2": {"field": "lag2"}, "y2": {"field": "v2"}}},
  {"data": {"values": [{"lag": 131, "v": 0.005}]}, "mark": {"type": "point", "shape": "M0,0L0.6,2L-0.6,2Z", "filled": true, "color": "#ff0000", "size": 289, "opacity": 1, "angle": 214.7},
   "encoding": {"x": {"field": "lag", "type": "quantitative", "axis": null}, "y": {"field": "v", "type": "quantitative", "axis": null}}},
  {"data": {"values": [{"lag": 79, "v": 0.46, "t": "ACF of the residual time series (UH01-UD)"}]}, "mark": {"type": "text", "fontSize": 21.7, "align": "left", "baseline": "middle", "color": "black"},
   "encoding": {"x": {"field": "lag", "type": "quantitative", "axis": null}, "y": {"field": "v", "type": "quantitative", "axis": null}, "text": {"field": "t"}}},
  {"data": {"values": [{"lag": 986, "v": 0.386, "t": "M=126"}, {"lag": 1046, "v": 0.344, "t": "(k)=17.9"}, {"lag": 1015, "v": 0.305, "t": "=36.8"}, {"lag": 986, "v": 0.267, "t": "N=2678"}, {"lag": 986, "v": 0.232, "t": "N"}, {"lag": 1062, "v": 0.232, "t": "=73"}, {"lag": 202, "v": 0.1165, "t": "Lag-M"}]}, "mark": {"type": "text", "fontSize": 19, "align": "left", "baseline": "middle", "color": "black"},
   "encoding": {"x": {"field": "lag", "type": "quantitative", "axis": null}, "y": {"field": "v", "type": "quantitative", "axis": null}, "text": {"field": "t"}}},
  {"data": {"values": [{"lag": 986, "v": 0.344, "t": "Σρ"}, {"lag": 986, "v": 0.305, "t": "τ"}]}, "mark": {"type": "text", "fontSize": 19, "fontWeight": "bold", "align": "left", "baseline": "middle", "color": "black"},
   "encoding": {"x": {"field": "lag", "type": "quantitative", "axis": null}, "y": {"field": "v", "type": "quantitative", "axis": null}, "text": {"field": "t"}}},
  {"data": {"values": [{"lag": 1021, "v": 0.222, "t": "eff"}]}, "mark": {"type": "text", "fontSize": 13, "align": "left", "baseline": "middle", "color": "black"},
   "encoding": {"x": {"field": "lag", "type": "quantitative", "axis": null}, "y": {"field": "v", "type": "quantitative", "axis": null}, "text": {"field": "t"}}},
  {"data": {"values": [{"lag": 836, "v": -0.186, "t": "ACF"}]}, "mark": {"type": "text", "fontSize": 20, "align": "left", "baseline": "middle", "color": "black"},
   "encoding": {"x": {"field": "lag", "type": "quantitative", "axis": null}, "y": {"field": "v", "type": "quantitative", "axis": null}, "text": {"field": "t"}}}
 ]
},
{
 "width": 528, "height": 527,
 "title": {"text": "(b)", "orient": "bottom", "anchor": "start", "frame": "bounds", "offset": -24},
 "resolve": {"axis": {"x": "independent", "y": "independent"}},
 "layer": [
  {"data": {"name": "acfB"}, "mark": {"type": "area", "color": "#d0d0d0", "interpolate": "linear"},
   "encoding": {
    "x": {"field": "lag", "type": "quantitative", "scale": {"domain": [-52, 1362], "nice": false, "zero": false},
     "axis": {"title": "Lag (days)", "values": [0,91,182,273,364,455,546,637,728,819,910,1001,1092,1183,1274], "format": "d", "labelExpr": "datum.value % 182 == 0 ? datum.label : ''", "tickSize": -10, "labelPadding": 17, "titlePadding": 16}},
    "y": {"field": "v", "type": "quantitative", "scale": {"domain": [-0.25, 0.5], "nice": false, "zero": false},
     "axis": {"title": "Auto-Correlation Coefficient", "orient": "left", "values": [-0.2,-0.1,0,0.1,0.2,0.3,0.4,0.5], "labelExpr": "toString(round(datum.value*10)/10)", "tickSize": 7, "labelPadding": 3, "titlePadding": 15}},
    "y2": {"datum": 0}}},
  {"data": {"name": "acfB"}, "mark": {"type": "rule", "color": "#bcbcbc", "strokeWidth": 0.8},
   "encoding": {"x": {"field": "lag", "type": "quantitative", "axis": null}, "y": {"field": "v", "type": "quantitative", "axis": null}, "y2": {"datum": 0}}},
  {"data": {"values": [{}]}, "mark": {"type": "rule", "color": "#e07a7a", "strokeDash": [8, 4], "strokeWidth": 1.3},
   "encoding": {"y": {"datum": 0, "type": "quantitative", "axis": {"orient": "left", "values": [-0.25,-0.15,-0.05,0.05,0.15,0.25,0.35,0.45], "labels": false, "domain": false, "tickSize": 4, "title": null}}}},
  {"data": {"name": "acfB"}, "mark": {"type": "circle", "color": "#0b84ff", "size": 28, "opacity": 1},
   "encoding": {"x": {"field": "lag", "type": "quantitative", "axis": null}, "y": {"field": "v", "type": "quantitative", "axis": null}}},
  {"data": {"values": [{"lag": 136.5, "v": 0.101, "lag2": 56, "v2": 0.0}]}, "mark": {"type": "rule", "color": "#ff0000", "strokeWidth": 1},
   "encoding": {"x": {"field": "lag", "type": "quantitative", "axis": null}, "y": {"field": "v", "type": "quantitative", "axis": null}, "x2": {"field": "lag2"}, "y2": {"field": "v2"}}},
  {"data": {"values": [{"lag": 56, "v": 0.0}]}, "mark": {"type": "point", "shape": "M0,0L0.6,2L-0.6,2Z", "filled": true, "color": "#ff0000", "size": 289, "opacity": 1, "angle": 202.9},
   "encoding": {"x": {"field": "lag", "type": "quantitative", "axis": null}, "y": {"field": "v", "type": "quantitative", "axis": null}}},
  {"data": {"values": [{"lag": 88, "v": 0.459, "t": "ACF of the residual time series (UH01-NS)"}]}, "mark": {"type": "text", "fontSize": 21.7, "align": "left", "baseline": "middle", "color": "black"},
   "encoding": {"x": {"field": "lag", "type": "quantitative", "axis": null}, "y": {"field": "v", "type": "quantitative", "axis": null}, "text": {"field": "t"}}},
  {"data": {"values": [{"lag": 984, "v": 0.387, "t": "M=55"}, {"lag": 1050, "v": 0.348, "t": "(k)=9.2"}, {"lag": 1012, "v": 0.307, "t": "=19.4"}, {"lag": 984, "v": 0.269, "t": "N=2678"}, {"lag": 984, "v": 0.232, "t": "N"}, {"lag": 1063, "v": 0.232, "t": "=138"}, {"lag": 59, "v": 0.124, "t": "Lag-M"}]}, "mark": {"type": "text", "fontSize": 19, "align": "left", "baseline": "middle", "color": "black"},
   "encoding": {"x": {"field": "lag", "type": "quantitative", "axis": null}, "y": {"field": "v", "type": "quantitative", "axis": null}, "text": {"field": "t"}}},
  {"data": {"values": [{"lag": 984, "v": 0.348, "t": "Σρ"}, {"lag": 984, "v": 0.307, "t": "τ"}]}, "mark": {"type": "text", "fontSize": 19, "fontWeight": "bold", "align": "left", "baseline": "middle", "color": "black"},
   "encoding": {"x": {"field": "lag", "type": "quantitative", "axis": null}, "y": {"field": "v", "type": "quantitative", "axis": null}, "text": {"field": "t"}}},
  {"data": {"values": [{"lag": 1021.6, "v": 0.223, "t": "eff"}]}, "mark": {"type": "text", "fontSize": 13, "align": "left", "baseline": "middle", "color": "black"},
   "encoding": {"x": {"field": "lag", "type": "quantitative", "axis": null}, "y": {"field": "v", "type": "quantitative", "axis": null}, "text": {"field": "t"}}},
  {"data": {"values": [{"lag": 838, "v": -0.189, "t": "ACF"}]}, "mark": {"type": "text", "fontSize": 20, "align": "left", "baseline": "middle", "color": "black"},
   "encoding": {"x": {"field": "lag", "type": "quantitative", "axis": null}, "y": {"field": "v", "type": "quantitative", "axis": null}, "text": {"field": "t"}}}
 ]
}
]
}
